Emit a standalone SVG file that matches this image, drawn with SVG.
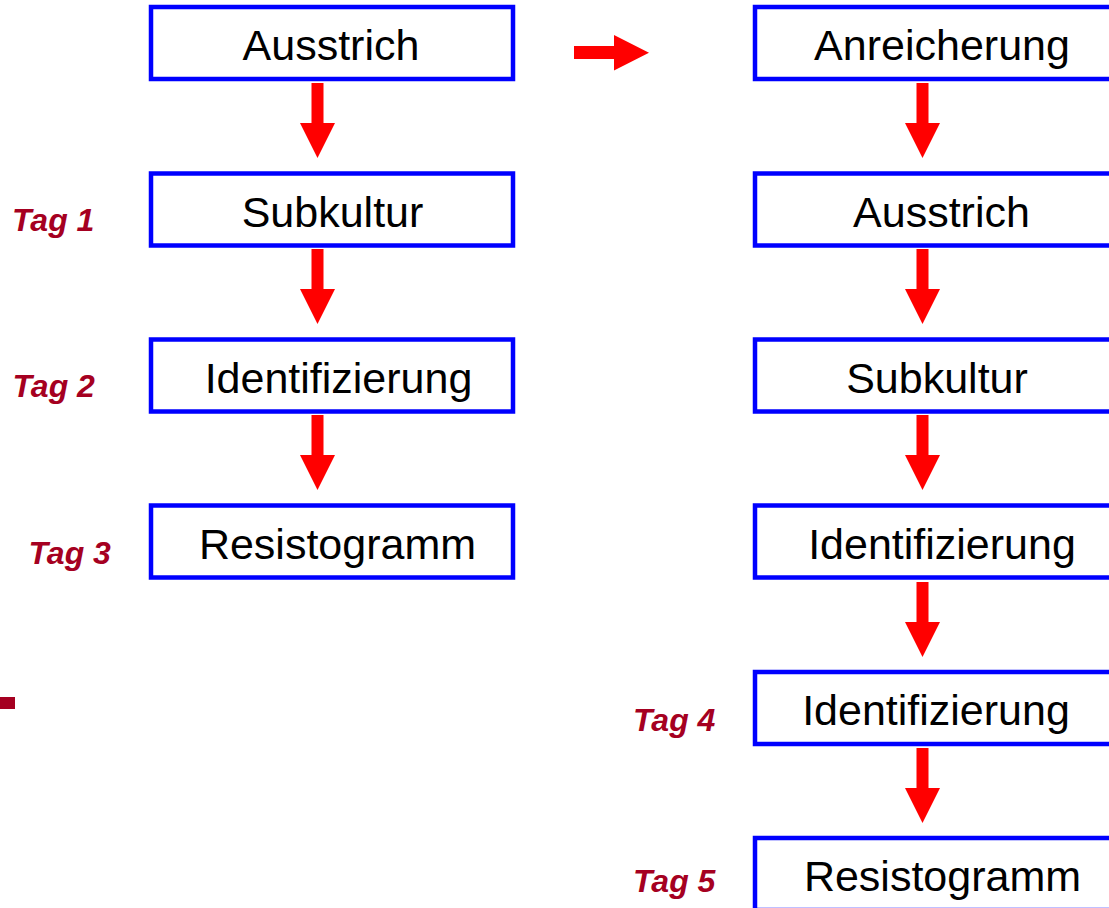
<svg xmlns="http://www.w3.org/2000/svg" width="1109" height="908" viewBox="0 0 1109 908">
<style>
.box{fill:#fff;stroke:#0000ff;stroke-width:4.5}
.lbl{font-family:"Liberation Sans",Arial,sans-serif;font-size:43px;fill:#000;text-anchor:middle}
.tag{font-family:"Liberation Sans",Arial,sans-serif;font-size:32px;font-weight:bold;font-style:italic;fill:#a50021}
.arr{fill:#ff0000}
</style>
<defs>
<path id="down" d="M-6,0 H6 V40 H17.5 L0,75 L-17.5,40 H-6 Z"/>
</defs>
<rect width="1109" height="908" fill="#fff"/>
<g id="connectors" class="arr">
<use href="#down" x="317.5" y="83"/>
<use href="#down" x="317.5" y="249"/>
<use href="#down" x="317.5" y="415"/>
<use href="#down" x="922.5" y="83"/>
<use href="#down" x="922.5" y="249"/>
<use href="#down" x="922.5" y="415"/>
<use href="#down" x="922.5" y="582"/>
<use href="#down" x="922.5" y="748"/>
<path id="horizontal" d="M574,46 H614 V35 L649,52.7 L614,70.5 V59 H574 Z"/>
</g>
<g id="L1"><rect class="box" x="151" y="7" width="362" height="72"/><text class="lbl" x="331" y="60">Ausstrich</text></g>
<g id="L2"><rect class="box" x="151" y="173.5" width="362" height="72"/><text class="lbl" x="332.5" y="226.5">Subkultur</text></g>
<g id="L3"><rect class="box" x="151" y="339.5" width="362" height="72"/><text class="lbl" x="338.5" y="393">Identifizierung</text></g>
<g id="L4"><rect class="box" x="151" y="505.5" width="362" height="72"/><text class="lbl" x="337.5" y="559">Resistogramm</text></g>
<g id="R1"><rect class="box" x="755" y="7" width="362" height="72"/><text class="lbl" x="942" y="60">Anreicherung</text></g>
<g id="R2"><rect class="box" x="755" y="173.5" width="362" height="72"/><text class="lbl" x="941.5" y="226.5">Ausstrich</text></g>
<g id="R3"><rect class="box" x="755" y="339.5" width="362" height="72"/><text class="lbl" x="937" y="393">Subkultur</text></g>
<g id="R4"><rect class="box" x="755" y="505.5" width="362" height="72"/><text class="lbl" x="942" y="559">Identifizierung</text></g>
<g id="R5"><rect class="box" x="755" y="672" width="362" height="72"/><text class="lbl" x="936" y="725">Identifizierung</text></g>
<g id="R6"><rect class="box" x="755" y="838" width="362" height="72"/><text class="lbl" x="942.5" y="891">Resistogramm</text></g>
<g id="tags">
<text class="tag" x="12" y="231">Tag 1</text>
<text class="tag" x="12.5" y="397">Tag 2</text>
<text class="tag" x="28.5" y="564">Tag 3</text>
<text class="tag" x="633" y="731">Tag 4</text>
<text class="tag" x="633" y="892">Tag 5</text>
</g>
<rect id="mark" x="0" y="697" width="15" height="12" fill="#a50021"/>
</svg>
